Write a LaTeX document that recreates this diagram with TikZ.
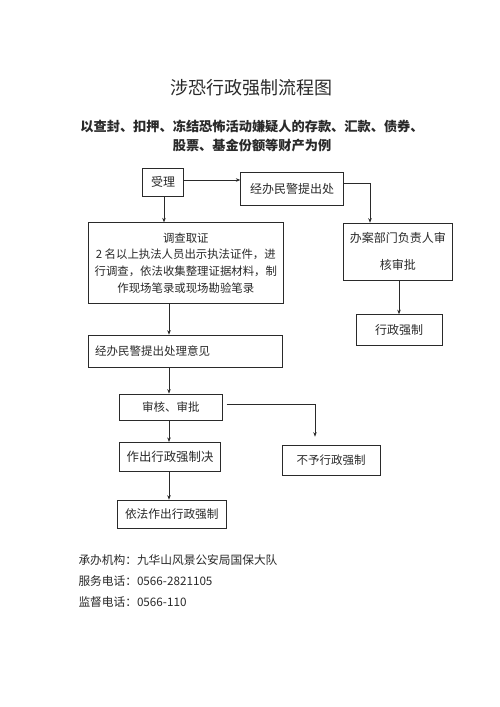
\documentclass[tikz,border=0pt]{standalone}
\usepackage{fontspec}
\setmainfont{Noto Sans CJK SC}
\usetikzlibrary{arrows.meta}
\definecolor{ink}{HTML}{2A2A2A}
\tikzset{
  box/.style={draw=ink, line width=0.7pt, text=ink, inner sep=0pt, minimum width=#1},
  fsz/.style={font=\fontsize{#1}{#1}\selectfont},
  conn/.style={draw=ink, line width=0.7pt, -{Stealth[length=4.5pt,width=3.5pt]}},
  plain/.style={text=ink, inner sep=0pt}
}
\begin{document}
\begin{tikzpicture}[x=1pt,y=-1pt]
\useasboundingbox (0,0) rectangle (500,707);
\fill[white] (0,0) rectangle (500,707);
% titles
\node[plain, fsz=18] (title) at (251,88) {涉恐行政强制流程图};
\node[plain, font=\bfseries\fontsize{13.2}{19}\selectfont, align=center] (sub) at (252,136)
  {以查封、扣押、冻结恐怖活动嫌疑人的存款、汇款、债券、\\股票、基金份额等财产为例};
% boxes
\node[box=41pt, minimum height=28.5pt, fsz=12] (shouli) at (163,182.3) {受理};
\node[box=102.6pt, minimum height=32.3pt, fsz=12] (jingban) at (292,188.8) {经办民警提出处};
\node[box=195pt, minimum height=80.6pt, font=\fontsize{11.4}{16.7}\selectfont, align=center] (diaocha) at (185.8,263)
  {调查取证\\2 名以上执法人员出示执法证件，进\\行调查，依法收集整理证据材料，制\\作现场笔录或现场勘验笔录};
\node[box=109pt, minimum height=57pt, font=\fontsize{12}{26.5}\selectfont, align=center] (banan) at (397.8,251.6)
  {办案部门负责人审\\核审批};
\node[box=86pt, minimum height=30.5pt, fsz=12] (xzqz) at (399,329.8) {行政强制};
\node[box=194.4pt, minimum height=32.3pt, fsz=11.5, text width=181pt, align=left] (yijian) at (185.5,351.2) {经办民警提出处理意见};
\node[box=103pt, minimum height=26.7pt, fsz=11.5] (shenhe) at (170.8,407.3) {审核、审批};
\node[box=101.4pt, minimum height=29.4pt, font=\fontsize{12.4}{12.4}\selectfont] (zuochu) at (170,457) {作出行政强制决};
\node[box=97.7pt, minimum height=30pt, fsz=11.5] (buyu) at (331.2,460) {不予行政强制};
\node[box=108.3pt, minimum height=28.3pt, fsz=11.7] (yifa) at (171.8,514.2) {依法作出行政强制};
% footer
\node[plain, fsz=11.7, anchor=west] (f1) at (78.3,560) {承办机构：九华山风景公安局国保大队};
\node[plain, fsz=11.7, anchor=west] (f2) at (78.3,581.5) {服务电话：0566-2821105};
\node[plain, fsz=11.7, anchor=west] (f3) at (78.3,602.3) {监督电话：0566-110};
% connectors
\coordinate (col) at (169,0);
\coordinate (k1) at (370,183.3);
\coordinate (k2) at (315,404.3);
\coordinate (k0) at (164,180);
\draw[conn] (k0 |- shouli.south) -- (k0 |- diaocha.north);
\draw[conn] (shouli.east |- k0) -- (jingban.west |- k0);
\draw[conn] (jingban.east |- k1) -- (k1) -- (k1 |- banan.north);
\draw[conn] (xzqz.north |- banan.south) -- (xzqz.north);
\draw[conn] (col |- diaocha.south) -- (col |- yijian.north);
\draw[conn] (col |- yijian.south) -- (col |- shenhe.north);
\draw[conn] (col |- shenhe.south) -- (col |- zuochu.north);
\draw[conn] (col |- zuochu.south) -- (col |- yifa.north);
\draw[conn, shorten <=4pt, shorten >=8pt] (shenhe.east |- k2) -- (k2) -- (k2 |- buyu.north);
\end{tikzpicture}
\end{document}
